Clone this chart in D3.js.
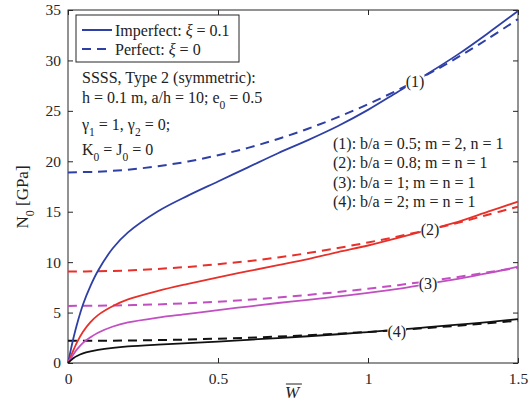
<!DOCTYPE html>
<html>
<head>
<meta charset="utf-8">
<script src="https://cdn.jsdelivr.net/npm/d3@7"></script>
<style>
    body { margin: 0; background: #fff; }
    svg, text { font-family: "Liberation Serif", "Times New Roman", serif; }
    .tick text { font-size: 15.5px; fill: #262626; }
    .tick line { stroke: #262626; }
</style>
</head>
<body>
<svg width="530" height="411"></svg>
<script>
// W values where the curves were read
const wImperfect = [0, 0.005, 0.01, 0.02, 0.03, 0.05, 0.075, 0.1, 0.15, 0.2, 0.3, 0.4, 0.5,
    0.6, 0.7, 0.8, 0.9, 1.0, 1.1, 1.2, 1.3, 1.4, 1.5];
const wPerfect = [0, 0.1, 0.2, 0.3, 0.4, 0.5, 0.6, 0.7, 0.8, 0.9, 1.0, 1.1, 1.2, 1.3, 1.4, 1.5];

// imperfect (xi = 0.1), solid
const imp1 = [0, 0.7, 1.4, 2.7, 3.85, 5.8, 7.65, 9.15, 11.4, 12.95, 15.05, 16.6, 18.0,
    19.4, 20.8, 22.1, 23.5, 25.1, 26.9, 28.7, 30.6, 32.7, 34.9];
const imp2 = [0, 0.35, 0.7, 1.4, 2.05, 3.1, 4.05, 4.75, 5.65, 6.3, 7.15, 7.85, 8.5,
    9.1, 9.7, 10.3, 11.0, 11.65, 12.4, 13.2, 14.0, 15.0, 16.0];
const imp3 = [0, 0.25, 0.48, 0.95, 1.35, 2.0, 2.55, 3.0, 3.62, 4.02, 4.5, 4.87, 5.25,
    5.6, 5.95, 6.25, 6.6, 6.95, 7.35, 7.85, 8.35, 8.9, 9.55];
const imp4 = [0, 0.14, 0.28, 0.53, 0.7, 0.95, 1.15, 1.3, 1.5, 1.64, 1.82, 1.97, 2.12,
    2.3, 2.47, 2.65, 2.85, 3.07, 3.3, 3.55, 3.8, 4.05, 4.35];

// perfect (xi = 0), dashed
const per1 = [18.9, 18.97, 19.17, 19.51, 19.98, 20.6, 21.33, 22.21, 23.23, 24.38, 25.66, 27.08, 28.63, 30.32, 32.15, 34.1];
const per2 = [9.07, 9.1, 9.18, 9.33, 9.53, 9.8, 10.1, 10.47, 10.9, 11.4, 11.95, 12.55, 13.2, 13.9, 14.7, 15.5];
const per3 = [5.66, 5.68, 5.73, 5.81, 5.93, 6.08, 6.27, 6.49, 6.75, 7.04, 7.36, 7.72, 8.11, 8.53, 8.99, 9.45];
const per4 = [2.2, 2.21, 2.23, 2.27, 2.33, 2.41, 2.5, 2.62, 2.76, 2.91, 3.08, 3.27, 3.48, 3.7, 3.94, 4.2];

const caseColors = ["#2e3fa6", "#e8302a", "#c24fc2", "#111111"];
const caseLabels = ["(1)", "(2)", "(3)", "(4)"];
const labelAt = [[1.157, 27.9], [1.207, 13.2], [1.2, 7.9], [1.096, 3.1]];
const caseNotes = ["(1): b/a = 0.5; m = 2, n = 1", "(2): b/a = 0.8; m = n = 1",
    "(3): b/a = 1; m = n = 1", "(4): b/a = 2; m = n = 1"];
const xTicks = [0, 0.5, 1, 1.5];
const yTicks = [0, 5, 10, 15, 20, 25, 30, 35];

let svg = d3.select("svg");
let margin = {left: 68, top: 10, right: 12, bottom: 48};
let width = 530 - margin.left - margin.right;
let height = 411 - margin.top - margin.bottom;

let x = d3.scaleLinear().domain([0, 1.5]).range([0, width]);
let y = d3.scaleLinear().domain([0, 35]).range([height, 0]);

let g = svg.append("g").attr("transform", "translate(" + margin.left + "," + margin.top + ")");

//axes, ticks pointing inward
function cleanAxis(a) {
    a.attr("font-family", null).attr("font-size", null);
    a.select(".domain").remove();
}
g.append("g")
    .attr("transform", "translate(0," + height + ")")
    .call(d3.axisBottom(x).tickValues(xTicks).tickFormat(d3.format("")).tickSize(-5).tickSizeOuter(0).tickPadding(10))
    .call(cleanAxis);
g.append("g")
    .call(d3.axisTop(x).tickValues(xTicks).tickFormat("").tickSize(-5).tickSizeOuter(0))
    .call(cleanAxis);
g.append("g")
    .call(d3.axisLeft(y).tickValues(yTicks).tickSize(-5).tickSizeOuter(0).tickPadding(7))
    .call(cleanAxis);
g.append("g")
    .attr("transform", "translate(" + width + ",0)")
    .call(d3.axisRight(y).tickValues(yTicks).tickFormat("").tickSize(-5).tickSizeOuter(0))
    .call(cleanAxis);

g.append("rect")
    .attr("width", width).attr("height", height)
    .attr("fill", "none").attr("stroke", "#262626").attr("stroke-width", 1);

//curves
let line = d3.line()
    .x(d => x(d[0]))
    .y(d => y(d[1]))
    .curve(d3.curveCatmullRom.alpha(0.5));

let imperfect = [imp1, imp2, imp3, imp4];
let perfect = [per1, per2, per3, per4];

let plot = g.append("g");
perfect.forEach(function (vals, i) {
    plot.append("path")
        .datum(wPerfect.map((w, j) => [w, vals[j]]))
        .attr("d", line)
        .attr("fill", "none")
        .attr("stroke", caseColors[i])
        .attr("stroke-width", 2)
        .attr("stroke-dasharray", "9,6");
});
imperfect.forEach(function (vals, i) {
    plot.append("path")
        .datum(wImperfect.map((w, j) => [w, vals[j]]))
        .attr("d", line)
        .attr("fill", "none")
        .attr("stroke", caseColors[i])
        .attr("stroke-width", 1.8);
});

//curve labels with white background
labelAt.forEach(function (p, i) {
    let lg = g.append("g").attr("transform", "translate(" + x(p[0]) + "," + y(p[1]) + ")");
    let bg = lg.append("rect").attr("fill", "#fff");
    let t = lg.append("text")
        .attr("text-anchor", "middle")
        .attr("dy", "0.33em")
        .attr("font-size", 16)
        .attr("fill", "#222")
        .text(caseLabels[i]);
    let b = t.node().getBBox();
    bg.attr("x", b.x).attr("y", b.y + 2).attr("width", b.width).attr("height", b.height - 4);
});

//legend
let legend = g.append("g").attr("transform", "translate(8,5)");
legend.append("rect")
    .attr("width", 163).attr("height", 47)
    .attr("fill", "#fff").attr("stroke", "#262626").attr("stroke-width", 1);
[["Imperfect: ", " = 0.1", null], ["Perfect: ", " = 0", "9,6"]].forEach(function (d, i) {
    let ly = 15 + i * 19;
    legend.append("line")
        .attr("x1", 6).attr("x2", 36).attr("y1", ly).attr("y2", ly)
        .attr("stroke", caseColors[0]).attr("stroke-width", 2)
        .attr("stroke-dasharray", d[2]);
    let t = legend.append("text").attr("x", 39).attr("y", ly + 5.5).attr("font-size", 16).attr("fill", "#222");
    t.append("tspan").text(d[0]);
    t.append("tspan").attr("font-style", "italic").text("ξ");
    t.append("tspan").text(d[1]);
});

//text with subscripts: parts are [text, isSub, dy]
function richText(parent, px, py, parts) {
    let t = parent.append("text").attr("x", px).attr("y", py).attr("font-size", 16).attr("fill", "#222");
    parts.forEach(function (p) {
        if (p[1]) {
            t.append("tspan").attr("font-size", 11.5).attr("dy", 6).text(p[0]);
        } else {
            t.append("tspan").attr("dy", p[2] || 0).text(p[0]);
        }
    });
    return t;
}

richText(g, 14, 73, [["SSSS, Type 2 (symmetric):"]]);
richText(g, 14, 93, [["h = 0.1 m, a/h = 10; e"], ["0", true], [" = 0.5", false, -6]]);
richText(g, 14, 120, [["γ"], ["1", true], [" =  1, γ", false, -6], ["2", true], [" =  0;", false, -6]]);
richText(g, 14, 145, [["K"], ["0", true], [" = J", false, -6], ["0", true], [" = 0", false, -6]]);

caseNotes.forEach(function (s, i) {
    g.append("text")
        .attr("x", 265).attr("y", 139 + i * 19.3)
        .attr("font-size", 16).attr("fill", "#222")
        .text(s);
});

//axis labels
let yl = svg.append("text")
    .attr("transform", "translate(28,197) rotate(-90)")
    .attr("text-anchor", "middle")
    .attr("font-size", 17).attr("fill", "#222");
yl.append("tspan").text("N");
yl.append("tspan").attr("font-size", 12).attr("dy", 6).text("0");
yl.append("tspan").attr("dy", -6).text(" [GPa]");

let xl = svg.append("text")
    .attr("x", 292).attr("y", 398)
    .attr("text-anchor", "middle")
    .attr("font-size", 17).attr("font-style", "italic").attr("fill", "#222")
    .text("W");
let xb = xl.node().getBBox();
svg.append("line")
    .attr("x1", xb.x + 1).attr("x2", xb.x + xb.width + 1)
    .attr("y1", xb.y + 1).attr("y2", xb.y + 1)
    .attr("stroke", "#222").attr("stroke-width", 1);
</script>
</body>
</html>
